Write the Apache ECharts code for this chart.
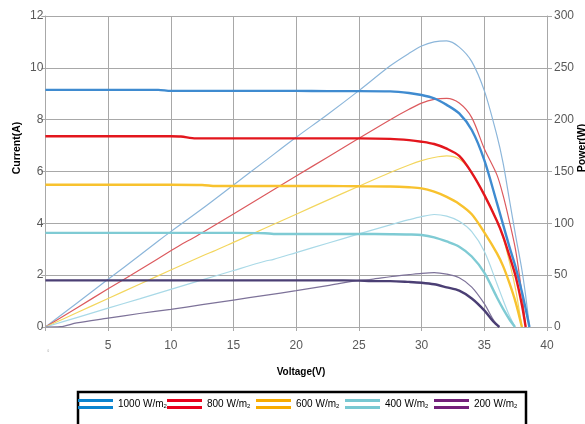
<!DOCTYPE html>
<html><head><meta charset="utf-8">
<script src="https://cdn.jsdelivr.net/npm/echarts@6/dist/echarts.min.js"></script>
<style>html,body{margin:0;padding:0;background:#fff;overflow:hidden}#c{width:585px;height:424px}</style>
</head><body><div id="c"></div>
<script>
// ---- data ----
const seriesNames = ['1000 W/m2', '800 W/m2', '600 W/m2', '400 W/m2', '200 W/m2'];
const xTicks = [0, 5, 10, 15, 20, 25, 30, 35, 40];

const voltage1000 = [0,2.5,5,7.5,9,10,12.5,15,17.5,20,22.5,25,27.5,29,30,31,32,33,34,35,36,36.5,37,37.5,38,38.3,38.6];
const current1000 = [9.15,9.15,9.15,9.15,9.15,9.11,9.11,9.11,9.11,9.11,9.1,9.1,9.09,9.03,8.95,8.82,8.57,8.24,7.6,6.44,4.8,3.95,3.1,2.3,1.35,0.7,0];
const power1000   = [0,23,46,69,83,92,114,137,160,183,205,228,252,264,271,275,276,270,256,228,185,158,123,88,55,30,0];

const voltage800 = [0,2.5,5,7.5,10,10.8,12,15,17.5,20,22.5,25,27.5,29,30,31,32,33,34,35,36,36.5,37,37.5,38,38.3];
const current800 = [7.36,7.36,7.36,7.36,7.36,7.35,7.28,7.28,7.28,7.28,7.28,7.28,7.26,7.21,7.15,7.06,6.88,6.6,5.95,5.1,4.1,3.5,2.75,1.95,0.85,0];
const power800   = [0,18.4,36.8,55,73.5,79.4,87.4,109,127.4,145.6,163.8,182,200,210,216,219.5,220.5,216,202,172,147,127,102,74,32,0];

const voltage600 = [0,2.5,5,7.5,10,12.5,13.6,15,17.5,20,22.5,25,27.5,29,30,31,32,33,34,35,36,36.5,37,37.5,38];
const current600 = [5.49,5.49,5.49,5.49,5.49,5.48,5.44,5.44,5.44,5.44,5.44,5.43,5.42,5.39,5.35,5.22,5.02,4.75,4.35,3.65,2.85,2.35,1.7,0.95,0];
const power600   = [0,13.7,27.5,41.2,55,68.5,74,81.6,95.2,108.8,122.4,135.8,149,156.3,160.5,163.5,165,162,149,128,103,86,63,36,0];

const voltage400 = [0,2.5,5,7.5,10,12.5,15,17.5,18.2,20,22.5,25,27.5,29,30,31,32,33,34,35,36,36.5,37,37.45];
const current400 = [3.63,3.63,3.63,3.63,3.63,3.63,3.63,3.62,3.59,3.59,3.59,3.59,3.58,3.57,3.55,3.46,3.3,3.1,2.72,2.1,1.15,0.7,0.3,0];
const power400   = [0,9.1,18.2,27.2,36.3,45.4,54.5,63.4,65.3,71.8,80.8,89.8,98.5,103.5,106.5,108.5,107,102,92,73,42,26,11,0];

const voltage200 = [0,1.2,2.5,5,7.5,10,12.5,15,17.5,20,22.5,25,26,27.5,29,30,31,32,33,34,35,35.7,36.2];
const current200 = [1.8,1.8,1.8,1.8,1.8,1.8,1.8,1.8,1.8,1.8,1.8,1.79,1.77,1.77,1.74,1.71,1.65,1.53,1.4,1.1,0.64,0.22,0];
const power200   = [0,0.3,4,8.5,13,17,21.5,26,30.5,35,40,45,46,48.5,50.5,51.8,52.5,51,47.5,38.5,22.5,7.5,0];

// ---- styling ----
const voltages = [voltage1000, voltage800, voltage600, voltage400, voltage200];
const currents = [current1000, current800, current600, current400, current200];
const powers = [power1000, power800, power600, power400, power200];
const currentColors = ['#3f8bd0', '#e3161d', '#f8c22e', '#7fcbd4', '#4b3f74'];
const powerColors = ['#8cb6da', '#dc5a5e', '#f3d65e', '#a9d9e7', '#7d7299'];
const legendColors = ['#0a84d0', '#e8001c', '#f8ac00', '#78c8d2', '#73207a'];
const legendLefts = [78, 167, 256, 345, 434];

function pairs(xs, ys) { return xs.map((x, i) => [x, ys[i]]); }

const series = [];
seriesNames.forEach((name, k) => {
  series.push({
    name: name + ' P', type: 'line', yAxisIndex: 1, showSymbol: false, silent: true,
    smooth: 0.3,
    lineStyle: { width: 1.2, color: powerColors[k] }, itemStyle: { color: powerColors[k] },
    data: pairs(voltages[k], powers[k]), z: 2
  });
});
seriesNames.forEach((name, k) => {
  series.push({
    name: name, type: 'line', yAxisIndex: 0, showSymbol: false, silent: true,
    smooth: 0.3,
    lineStyle: { width: 2.4, color: currentColors[k] }, itemStyle: { color: currentColors[k] },
    data: pairs(voltages[k], currents[k]), z: 3
  });
});

const legends = seriesNames.map((name, k) => ({
  left: legendLefts[k], top: 399, orient: 'horizontal', padding: 0,
  itemWidth: 35, itemHeight: 10, itemGap: 0, symbolKeepAspect: false,
  icon: 'path://M0,0H100V3H0Z M0,7H100V10H0Z',
  selectedMode: false,
  data: [{ name: name, itemStyle: { color: legendColors[k] } }],
  formatter: n => n.replace('m2', 'm{s|2}'),
  textStyle: {
    fontFamily: 'Liberation Sans', fontSize: 10, color: '#000', padding: [0, 0, 0, 0],
    rich: { s: { fontSize: 6, verticalAlign: 'bottom', fontFamily: 'Liberation Sans', color: '#000', padding: [3, 0, 0, 0] } }
  }
}));

const gridColor = '#a8a8a8';
const option = {
  animation: false,
  backgroundColor: '#fff',
  grid: { left: 45.4, right: 38, top: 16, bottom: 97, containLabel: false },
  legend: legends,
  xAxis: {
    type: 'value', min: 0, max: 40, interval: 5,
    axisLine: { show: true, onZero: false, lineStyle: { color: gridColor, width: 1 } },
    axisTick: { show: true, length: 4, lineStyle: { color: gridColor } },
    splitLine: { show: true, lineStyle: { color: gridColor, width: 1 } },
    axisLabel: {
      margin: 13, color: '#595959', fontSize: 12, fontFamily: 'Liberation Sans',
      formatter: v => (v === xTicks[0] ? '{t|0}' : String(v)),
      rich: { t: { fontSize: 3, color: '#999', padding: [10, 0, 0, 6] } }
    }
  },
  yAxis: [
    {
      type: 'value', min: 0, max: 12, interval: 2,
      axisLine: { show: true, lineStyle: { color: gridColor } },
      axisTick: { show: true, length: 4, lineStyle: { color: gridColor } },
      splitLine: { show: true, lineStyle: { color: gridColor, width: 1 } },
      axisLabel: { margin: 2, color: '#595959', fontSize: 12, fontFamily: 'Liberation Sans' }
    },
    {
      type: 'value', min: 0, max: 300, interval: 50, position: 'right',
      axisLine: { show: true, lineStyle: { color: gridColor } },
      axisTick: { show: true, length: 5, lineStyle: { color: gridColor } },
      splitLine: { show: false },
      axisLabel: { margin: 7, color: '#595959', fontSize: 12, fontFamily: 'Liberation Sans' }
    }
  ],
  graphic: [
    { type: 'rect', silent: true, shape: { x: 78, y: 392, width: 448, height: 44 },
      style: { fill: 'none', stroke: '#000', lineWidth: 2.5 } },
    { type: 'text', silent: true, x: 17, y: 148, rotation: Math.PI / 2,
      style: { text: 'Current(A)', fontFamily: 'Liberation Sans', fontWeight: 'bold', fontSize: 10.5, fill: '#000', align: 'center', verticalAlign: 'middle' } },
    { type: 'text', silent: true, x: 582, y: 148, rotation: Math.PI / 2,
      style: { text: 'Power(W)', fontFamily: 'Liberation Sans', fontWeight: 'bold', fontSize: 10.5, fill: '#000', align: 'center', verticalAlign: 'middle' } },
    { type: 'text', silent: true, x: 301, y: 372,
      style: { text: 'Voltage(V)', fontFamily: 'Liberation Sans', fontWeight: 'bold', fontSize: 10, fill: '#000', align: 'center', verticalAlign: 'middle' } }
  ],
  series: series
};

const chart = echarts.init(document.getElementById('c'), null, { renderer: 'canvas' });
chart.setOption(option);
</script></body></html>
